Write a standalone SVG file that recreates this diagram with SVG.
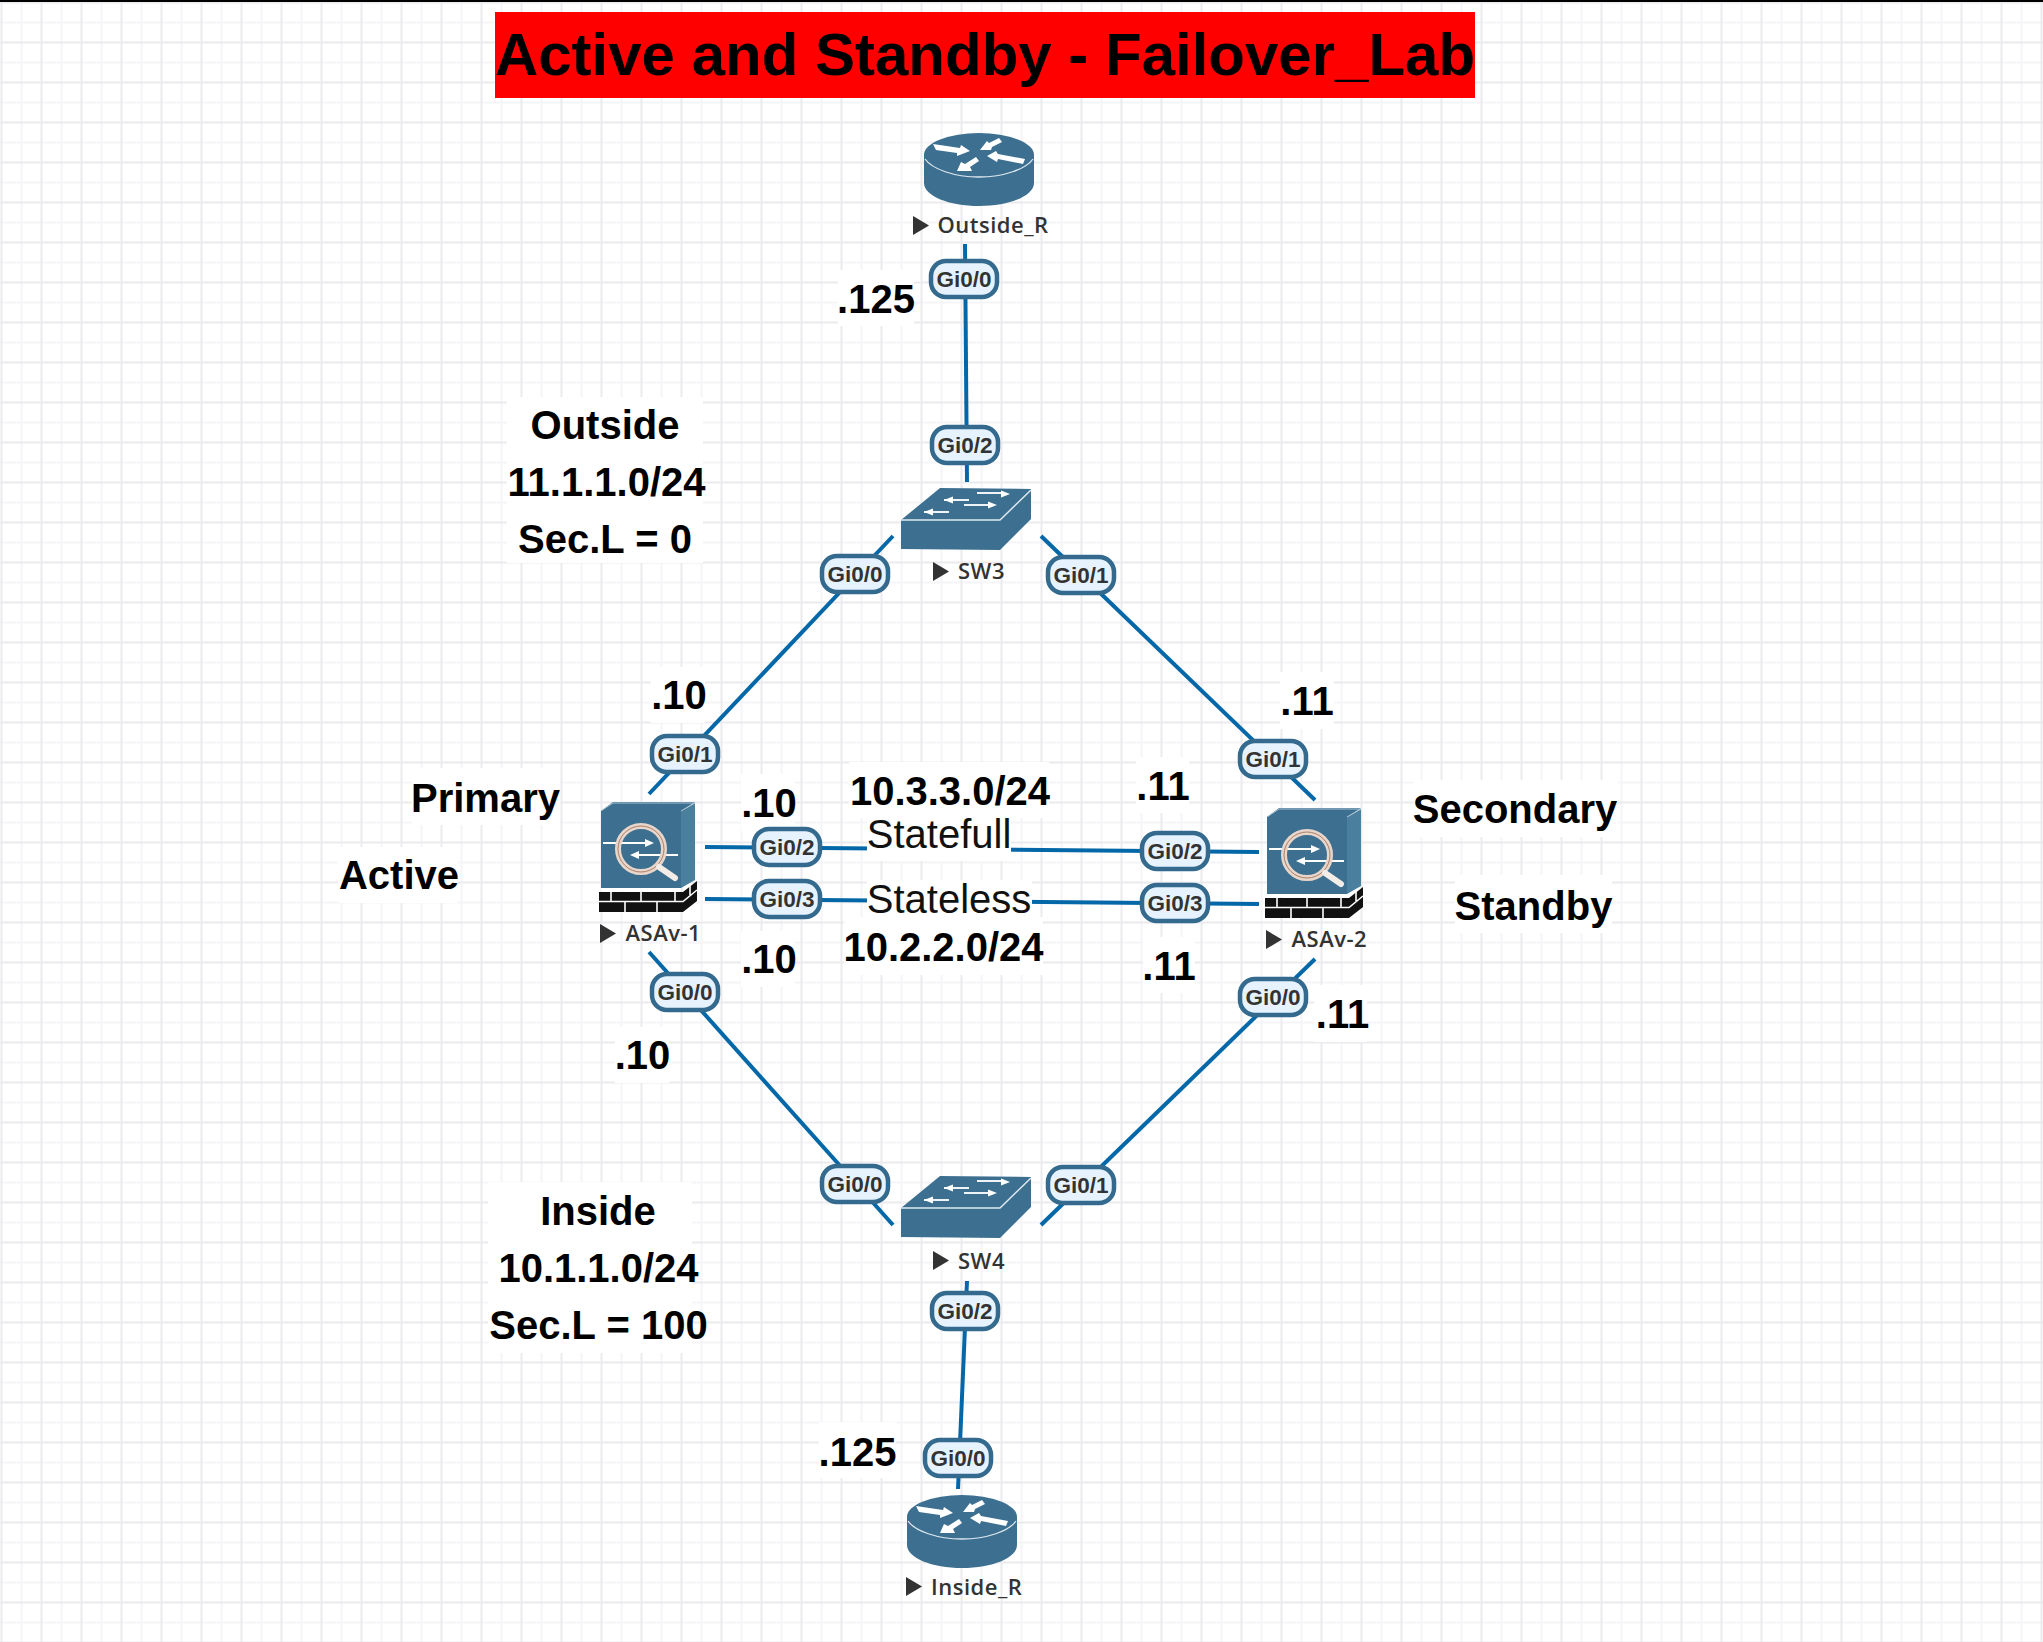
<svg xmlns="http://www.w3.org/2000/svg" xmlns:xlink="http://www.w3.org/1999/xlink" width="2043" height="1642" viewBox="0 0 2043 1642">
<style>
.lnk{stroke:#0468a8;stroke-width:4;fill:none}
.pill{fill:#e6f3ff;stroke:#336a8e;stroke-width:4.5}
.pt{font:bold 22.500px "Liberation Sans",Arial,sans-serif;fill:#333;text-anchor:middle}
.nm{font:600 22px "Open Sans","Noto Sans",sans-serif;fill:#333;letter-spacing:.5px}
.b{font:bold 40px "Liberation Sans",Arial,sans-serif;fill:#000;text-anchor:middle}
.r{font:40px "Liberation Sans",Arial,sans-serif;fill:#111;text-anchor:middle}
.bg{fill:#fff}
.ic{fill:#3d7090}
.wh{fill:#fff}
.tri{fill:#333}
</style>
<defs>
<pattern id="grid" patternUnits="userSpaceOnUse" width="40" height="40">
<path d="M21.5 0V40M0 22.5H40" stroke="#f5f4f7" stroke-width="2" fill="none"/>
<path d="M1.5 0V40M0 2.5H40" stroke="#ebeaed" stroke-width="2" fill="none"/>
</pattern>
<g id="router">
<path class="ic" d="M0 22V50C0 63 25 73 55 73S110 63 110 50V22Z"/>
<ellipse class="ic" cx="55" cy="22" rx="55" ry="22"/>
<path d="M1 26C8 36 30 44 55 44S102 36 109 26" fill="none" stroke="#dfe9ef" stroke-width="1.300"/>
<polygon class="wh" points="9,11 12,17 33,20 33,23 46,18 37,12 36,15"/>
<polygon class="wh" points="75,5 78,9 68,14 67,17 56,17 63,8 65,10"/>
<polygon class="wh" points="101,26 99,31 74,26 73,29 63,23 72,18 74,21"/>
<polygon class="wh" points="52,24 55,28 46,34 48,38 33,38 37,29 41,31"/>
</g>
<g id="switch">
<polygon class="ic" points="0,32 39,0 130,1 130,31 99,62 0,61"/>
<path d="M0 32H99L130 2" fill="none" stroke="#dfe9ef" stroke-width="1.500"/>
<path d="M76 5H102M43 12H68M63 17H89M23 24H48" stroke="#eef4f7" stroke-width="2.200"/>
<polygon class="wh" points="109,6 100,2.500 100,9.500"/>
<polygon class="wh" points="43,12 52,8.500 52,15.500"/>
<polygon class="wh" points="96,17 87,13.500 87,20.500"/>
<polygon class="wh" points="23,24 32,20.500 32,27.500"/>
</g>
<g id="asa">
<polygon points="2,9 14,0 96,0 82,9" fill="#3d7090"/>
<polygon points="82,9 96,1 96,78 82,86" fill="#4a7f9e"/>
<path d="M2 9L14 1H96L82 9" fill="none" stroke="#a8c2d2" stroke-width="1"/>
<rect class="ic" x="2" y="9" width="80" height="77"/>
<rect x="2" y="86" width="80" height="3" fill="#fff"/>
<path d="M4 41H52M79 53H33" stroke="#fff" stroke-width="2"/>
<polygon class="wh" points="55,41 46,37 46,45"/>
<polygon class="wh" points="31,53 40,49 40,57"/>
<circle cx="42" cy="47" r="23" fill="none" stroke="#e8d6cb" stroke-width="6"/>
<circle cx="42" cy="47" r="23" fill="none" stroke="#a97f68" stroke-width="1"/>
<path d="M60 65L76 76" stroke="#f3ece7" stroke-width="6" stroke-linecap="round"/>
<path d="M0 90H84V110H0Z" fill="#111"/>
<polygon points="84,90 98,79 98,99 84,110" fill="#111"/>
<path d="M0 99.500H84L98 88M12 90V99M42 90V99M76 90V99M26 100V110M58 100V110M91 82V93" stroke="#fff" stroke-width="1.600" fill="none"/>
</g>
<polygon id="tri" class="tri" points="0,0 16,9.500 0,19"/>
</defs>
<rect width="2043" height="1642" fill="#fff"/>
<rect width="2043" height="1642" fill="url(#grid)"/>
<rect width="2043" height="2" fill="#000"/>

<g id="title">
<rect x="495" y="12" width="980" height="86" fill="#f00"/>
<text x="985" y="75" text-anchor="middle" style="font:bold 60px 'Liberation Sans',Arial,sans-serif" fill="#000">Active and Standby - Failover_Lab</text>
</g>

<g id="connectors">
<path class="lnk" d="M965 244L967 482"/>
<path class="lnk" d="M893 536L649 794"/>
<path class="lnk" d="M1041 536L1315 800"/>
<path class="lnk" d="M705 847L1259 852"/>
<path class="lnk" d="M705 899L1259 904"/>
<path class="lnk" d="M649 952L893 1225"/>
<path class="lnk" d="M1315 959L1041 1225"/>
<path class="lnk" d="M967 1281L958 1489"/>
</g>

<g id="labels">
<rect class="bg" x="838" y="270" width="76" height="56"/><text class="b" x="876" y="313">.125</text>
<rect class="bg" x="507" y="397" width="196" height="166"/>
<text class="b" x="605" y="439">Outside</text><text class="b" x="606.500" y="496">11.1.1.0/24</text><text class="b" x="605" y="553">Sec.L = 0</text>
<rect class="bg" x="651" y="667" width="54" height="56"/><text class="b" x="679" y="709">.10</text>
<rect class="bg" x="1280" y="672" width="54" height="57"/><text class="b" x="1307" y="715">.11</text>
<rect class="bg" x="412" y="768" width="148" height="57"/><text class="b" x="485.500" y="812">Primary</text>
<rect class="bg" x="338" y="847" width="120" height="56"/><text class="b" x="399" y="889">Active</text>
<rect class="bg" x="741" y="774" width="54" height="57"/><text class="b" x="769" y="817">.10</text>
<rect class="bg" x="849" y="762" width="200" height="56"/><text class="b" x="950" y="805">10.3.3.0/24</text>
<rect class="bg" x="1136" y="757" width="53" height="56"/><text class="b" x="1163" y="800">.11</text>
<rect class="bg" x="1414" y="780" width="204" height="57"/><text class="b" x="1515" y="823">Secondary</text>
<rect class="bg" x="867" y="818" width="144" height="43"/><text class="r" x="939" y="848">Statefull</text>
<rect class="bg" x="867" y="880" width="165" height="37"/><text class="r" x="949" y="913">Stateless</text>
<rect class="bg" x="1455" y="875" width="157" height="58"/><text class="b" x="1533.500" y="920">Standby</text>
<rect class="bg" x="741" y="931" width="54" height="56"/><text class="b" x="769" y="973">.10</text>
<rect class="bg" x="844" y="917" width="199" height="58"/><text class="b" x="943.500" y="961">10.2.2.0/24</text>
<rect class="bg" x="1143" y="937" width="52" height="56"/><text class="b" x="1169" y="980">.11</text>
<rect class="bg" x="1314" y="985" width="53" height="57"/><text class="b" x="1342.500" y="1028">.11</text>
<rect class="bg" x="615" y="1027" width="54" height="56"/><text class="b" x="642.500" y="1069">.10</text>
<rect class="bg" x="488" y="1182" width="204" height="171"/>
<text class="b" x="598" y="1225">Inside</text><text class="b" x="598.500" y="1282">10.1.1.0/24</text><text class="b" x="598.500" y="1339">Sec.L = 100</text>
<rect class="bg" x="819" y="1422" width="77" height="56"/><text class="b" x="857.500" y="1466">.125</text>
</g>

<g id="node-outside-r"><use href="#router" x="924" y="133"/><use href="#tri" x="913" y="216"/><text class="nm" x="937.500" y="233">Outside_R</text></g>
<g id="node-sw3"><use href="#switch" x="901" y="488"/><use href="#tri" x="933" y="562"/><text class="nm" x="958" y="579">SW3</text></g>
<g id="node-asav-1"><use href="#asa" x="599" y="802"/><use href="#tri" x="600" y="924"/><text class="nm" x="625.500" y="941">ASAv-1</text></g>
<g id="node-asav-2"><use href="#asa" x="1265" y="808"/><use href="#tri" x="1266" y="930"/><text class="nm" x="1291.500" y="947">ASAv-2</text></g>
<g id="node-sw4"><use href="#switch" x="901" y="1176"/><use href="#tri" x="933" y="1251"/><text class="nm" x="958" y="1269">SW4</text></g>
<g id="node-inside-r"><use href="#router" x="907" y="1495"/><use href="#tri" x="906" y="1577"/><text class="nm" x="931" y="1595">Inside_R</text></g>

<g id="ports">
<g id="p1"><rect class="pill" x="931" y="261" width="66" height="36" rx="15"/><text class="pt" x="964" y="287">Gi0/0</text></g>
<g id="p2"><rect class="pill" x="932" y="427" width="66" height="36" rx="15"/><text class="pt" x="965" y="453">Gi0/2</text></g>
<g id="p3"><rect class="pill" x="822" y="556" width="66" height="36" rx="15"/><text class="pt" x="855" y="582">Gi0/0</text></g>
<g id="p4"><rect class="pill" x="1048" y="557" width="66" height="36" rx="15"/><text class="pt" x="1081" y="583">Gi0/1</text></g>
<g id="p5"><rect class="pill" x="652" y="736" width="66" height="36" rx="15"/><text class="pt" x="685" y="762">Gi0/1</text></g>
<g id="p6"><rect class="pill" x="1240" y="741" width="66" height="36" rx="15"/><text class="pt" x="1273" y="767">Gi0/1</text></g>
<g id="p7"><rect class="pill" x="754" y="829" width="66" height="36" rx="15"/><text class="pt" x="787" y="855">Gi0/2</text></g>
<g id="p8"><rect class="pill" x="1142" y="833" width="66" height="36" rx="15"/><text class="pt" x="1175" y="859">Gi0/2</text></g>
<g id="p9"><rect class="pill" x="754" y="881" width="66" height="36" rx="15"/><text class="pt" x="787" y="907">Gi0/3</text></g>
<g id="p10"><rect class="pill" x="1142" y="885" width="66" height="36" rx="15"/><text class="pt" x="1175" y="911">Gi0/3</text></g>
<g id="p11"><rect class="pill" x="652" y="974" width="66" height="36" rx="15"/><text class="pt" x="685" y="1000">Gi0/0</text></g>
<g id="p12"><rect class="pill" x="1240" y="979" width="66" height="36" rx="15"/><text class="pt" x="1273" y="1005">Gi0/0</text></g>
<g id="p13"><rect class="pill" x="822" y="1166" width="66" height="36" rx="15"/><text class="pt" x="855" y="1192">Gi0/0</text></g>
<g id="p14"><rect class="pill" x="1048" y="1167" width="66" height="36" rx="15"/><text class="pt" x="1081" y="1193">Gi0/1</text></g>
<g id="p15"><rect class="pill" x="932" y="1293" width="66" height="36" rx="15"/><text class="pt" x="965" y="1319">Gi0/2</text></g>
<g id="p16"><rect class="pill" x="925" y="1440" width="66" height="36" rx="15"/><text class="pt" x="958" y="1466">Gi0/0</text></g>
</g>
</svg>
